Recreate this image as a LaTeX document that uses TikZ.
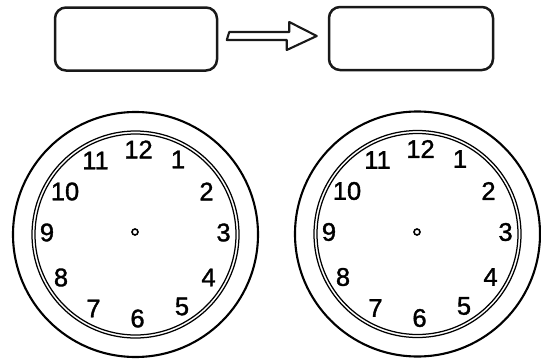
\documentclass[tikz,border=0pt]{standalone}
\usepackage{fontspec}
\setmainfont{Liberation Sans}
\newfontfamily\numfont[FakeBold=1.4]{Liberation Sans}
\usetikzlibrary{calc}
\begin{document}
\begin{tikzpicture}[x=1pt,y=-1pt,
  roughbox/.style={draw=black!90, line width=2.5pt, rounded corners=11pt,
    minimum width=162pt, minimum height=63pt, inner sep=0pt},
  blockarrow/.style={draw=black!90, line width=2.1pt, line join=round},
  rim/.style={circle, draw, line width=2.1pt, inner sep=0pt},
  ring/.style={circle, draw, line width=1.25pt, inner sep=0pt},
  hub/.style={circle, draw, line width=1.6pt, minimum size=6pt, inner sep=0pt},
  num/.style={font=\fontsize{25.5}{25.5}\numfont, inner sep=0pt}]
\useasboundingbox (0,0) rectangle (541,359);
% top boxes and arrow
\node[roughbox] (b1) at (136,39) {};
\node[roughbox, minimum width=164pt] (b2) at (411,38.5) {};
\coordinate (as) at ([xshift=11pt,yshift=3pt]b1.east);
\coordinate (at) at ([xshift=-11pt,yshift=2.5pt]b2.west);
\draw[blockarrow] (as) ++(0,-4) -- ++(60,0) -- ++(0,-10) -- (at) -- ++(-30,14) -- ++(0,-10) -- ++(-60,0) -- cycle;
% clocks
\foreach \k/\cx/\cy/\dx/\dy in {L/135.5/234.5/135/232, R/417.5/234/417/232}{
  \node[rim, minimum size=245pt] (\k o) at (\cx,\cy) {};
  \node[ring, minimum size=207pt] (\k a) at (\cx,\cy) {};
  \node[ring, minimum size=201pt] (\k b) at (\cx,\cy) {};
  \node[hub] (\k c) at (\dx,\dy) {};
  \foreach \h/\ox/\oy in {12/3/-85, 1/42.5/-75, 2/71/-43, 3/88/-2, 4/73/43, 5/46.5/72,
      6/2/84, 7/-42/74, 8/-74.5/43, 9/-88.5/-2, 10/-70.5/-43, 11/-40/-74}{
    \node[num] (\k n\h) at ($(\k o.center)+(\ox,\oy)$) {\h};
  }
}
\end{tikzpicture}
\end{document}
